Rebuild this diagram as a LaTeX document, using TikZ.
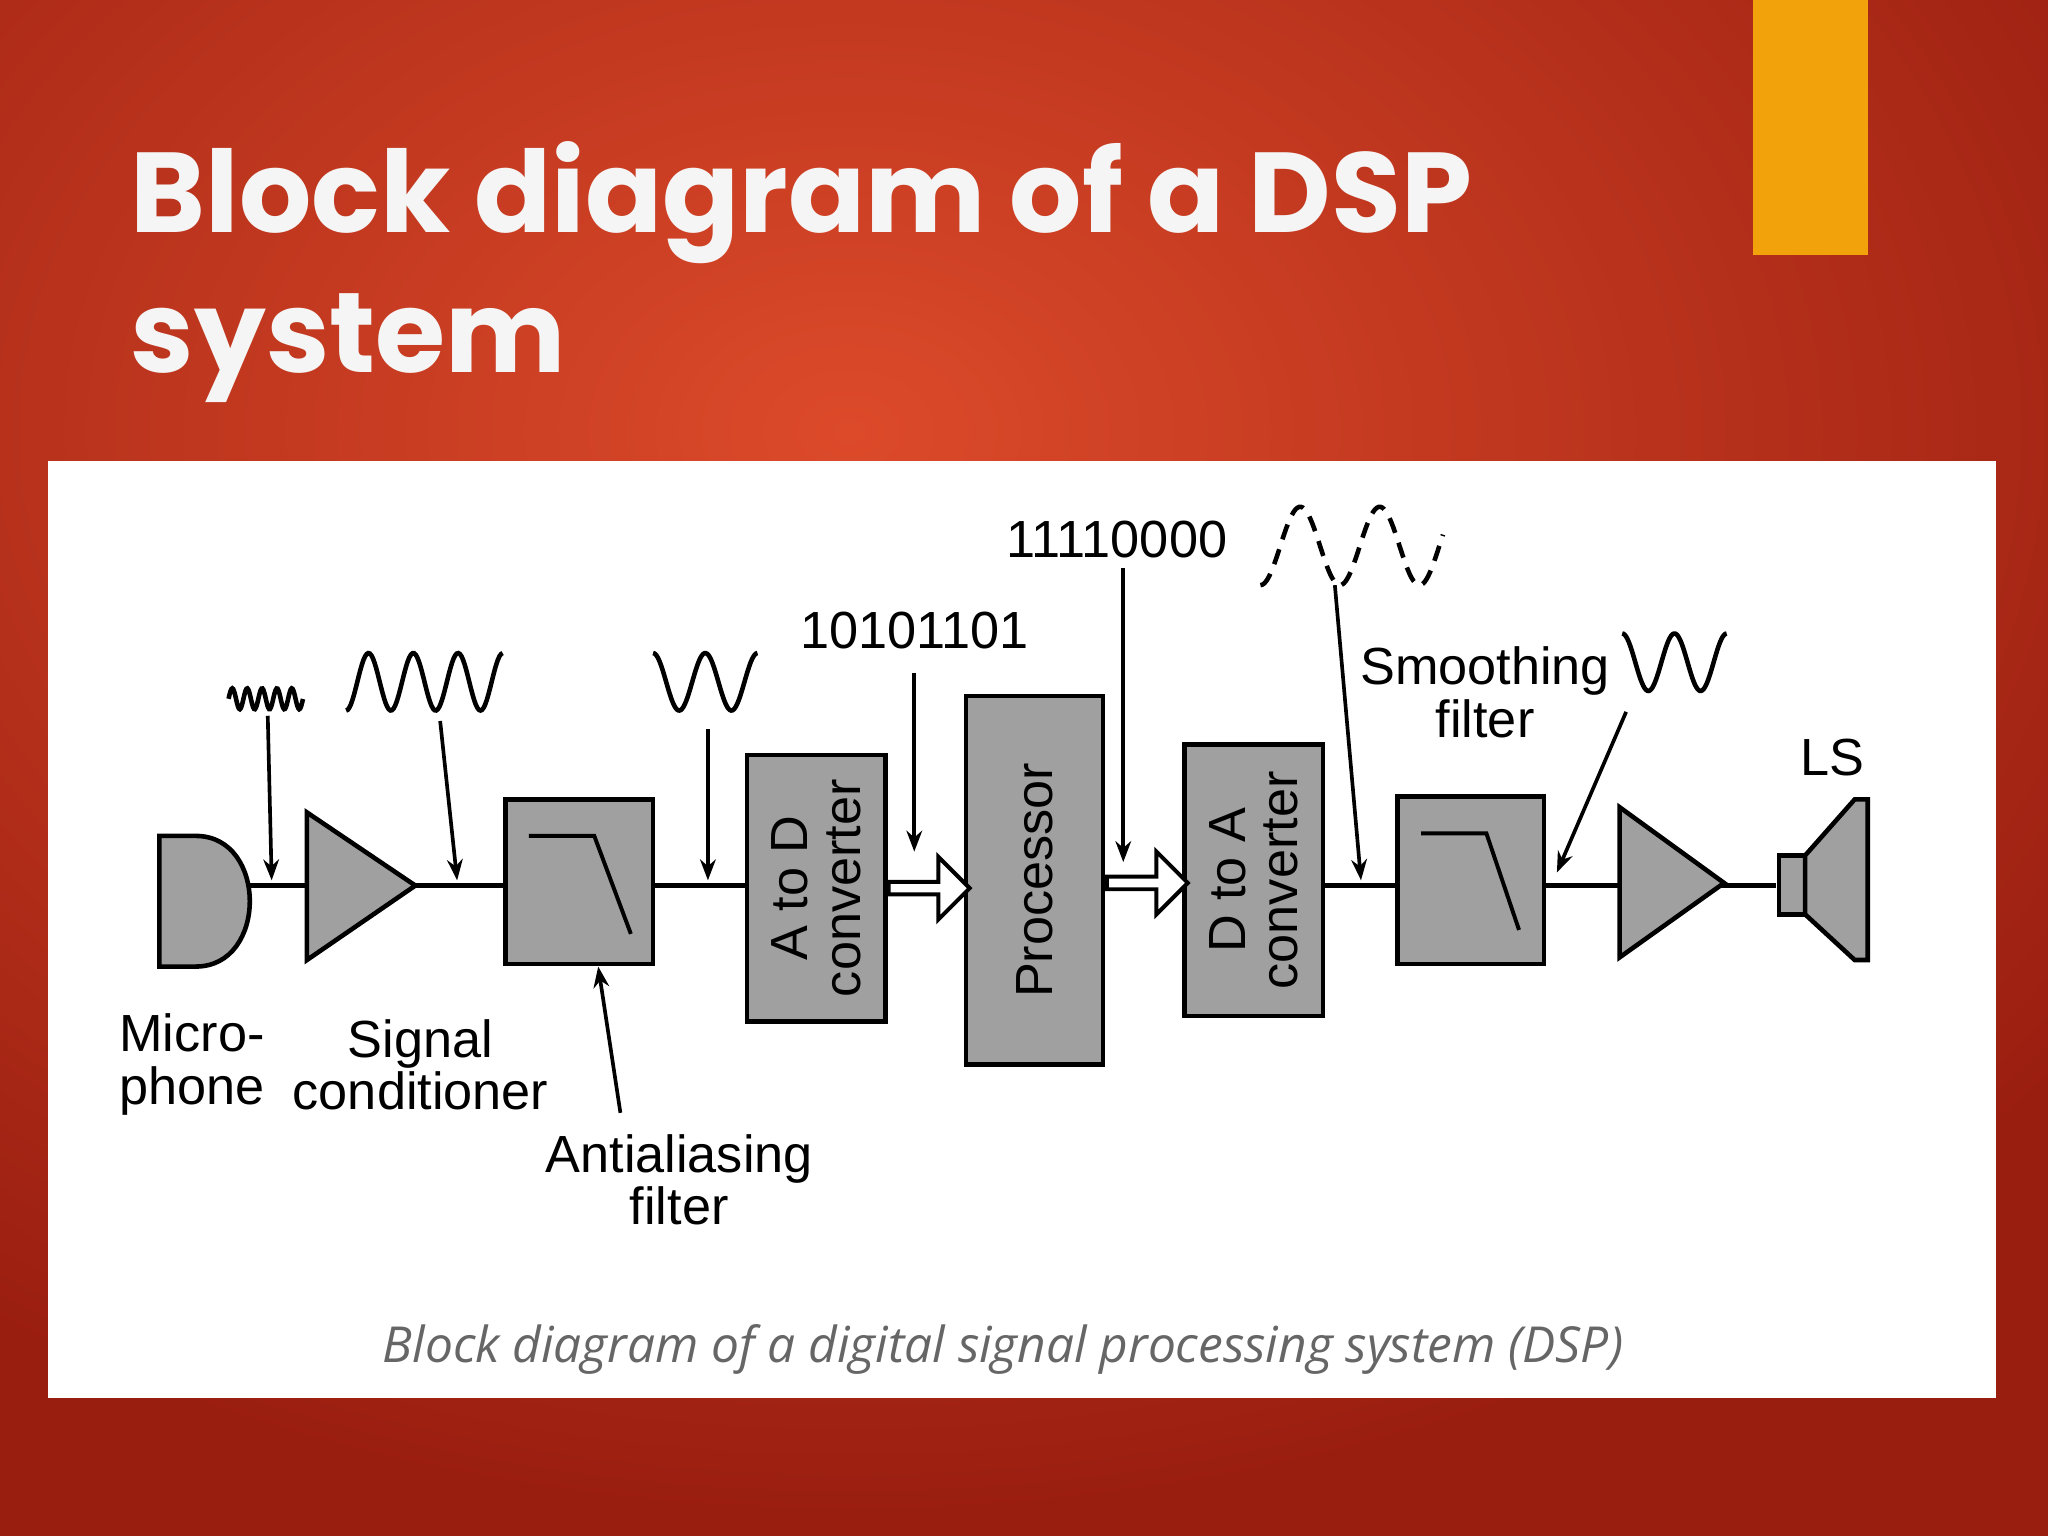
\documentclass[tikz,border=0pt]{standalone}
\usepackage{fontspec}
\setmainfont{Liberation Sans}
\newfontfamily\titlefont{Poppins}
\newfontfamily\capfont{Open Sans}
\usetikzlibrary{arrows.meta,shapes.arrows}
\definecolor{bgin}{HTML}{DC4A2A}
\definecolor{bgout}{HTML}{9A1E10}
\definecolor{bar}{HTML}{F2A30C}
\definecolor{blk}{HTML}{A0A0A0}
\begin{document}
\begin{tikzpicture}[x=1pt,y=-1pt,
  blkbox/.style={draw=black,line width=3.5pt,fill=blk},
  lbl/.style={font=\fontsize{40}{40}\selectfont,align=center,inner sep=0pt},
  arr/.style={-{Stealth[length=16pt,width=12pt]},line width=2.8pt},
  wave/.style={line width=3.5pt}]
\useasboundingbox (0,0) rectangle (1568,1176);
\fill[bgout] (0,0) rectangle (1568,1176);
\shade[inner color=bgin,outer color=bgout] (-500,-500) rectangle (1800,1160);
\fill[bar] (1342,0) rectangle (1430,195);
\node[anchor=base west,text=white!92!gray,font=\titlefont\bfseries\fontsize{87}{87}\selectfont,inner sep=0pt] (t1) at (100,178) {Block diagram of a DSP};
\node[anchor=base west,text=white!92!gray,font=\titlefont\bfseries\fontsize{87}{87}\selectfont,inner sep=0pt] (t2) at (100,285) {system};
\fill[white] (37,353) rectangle (1528,1070);
% main line
\coordinate (l0) at (190,678); \coordinate (l1) at (1360,678);
\draw[line width=3.5pt] (l0) -- (l1);
% microphone
\draw[blkbox] (122,640) -- (150,640) .. controls (205,640) and (205,740) .. (150,740) -- (122,740) -- cycle;
% amps
\draw[blkbox] (235,622) -- (318,678) -- (235,735) -- cycle;
\draw[blkbox] (1240,618) -- (1320,676) -- (1240,733) -- cycle;
% filters
\draw[blkbox] (387,612) rectangle (500,738);
\draw[line width=3pt] (405,640) -- (455,640) -- (483,715);
\draw[blkbox] (1070,610) rectangle (1182,738);
\draw[line width=3pt] (1088,638) -- (1138,638) -- (1163,712);
% converters
\node[blkbox,minimum width=106pt,minimum height=204pt] (ad) at (625,680) {};
\node[lbl,rotate=90] at (ad) {A to D\\converter};
\node[blkbox,minimum width=105pt,minimum height=282pt] (proc) at (792,674) {};
\node[lbl,rotate=90] at (proc) {Processor};
\node[blkbox,minimum width=106pt,minimum height=208pt] (da) at (960,674) {};
\node[lbl,rotate=90] at (da) {D to A\\converter};
% hollow arrows
\node[single arrow,draw=black,line width=3pt,fill=white,minimum height=62pt,minimum width=48pt,single arrow head extend=6pt,inner sep=0pt] (h1) at (709,680) {};
\node[single arrow,draw=black,line width=3pt,fill=white,minimum height=62pt,minimum width=48pt,single arrow head extend=6pt,inner sep=0pt] (h2) at (876,676) {};
% speaker
\draw[blkbox] (1362,655) rectangle (1382,700);
\draw[blkbox] (1382,655) -- (1420,612) -- (1430,612) -- (1430,735) -- (1420,735) -- (1382,700) -- cycle;
% labels
\node[lbl] (micl) at (147,815) {Micro-\\phone};
\node[lbl] (sigl) at (322,815) {Signal\\conditioner};
\node[lbl] (aal) at (520,903) {Antialiasing\\filter};
\node[lbl] (b1) at (700,483) {10101101};
\node[lbl] (b2) at (855,413) {11110000};
\node[lbl] (sml) at (1137,530) {Smoothing\\filter};
\node[lbl] (ls) at (1403,580) {LS};
\coordinate (aa) at (458,740); \draw[arr] (475,852) -- (aa);
\coordinate (p1) at (700,652); \draw[arr] (700,515) -- (p1);
\coordinate (p2) at (860,660); \draw[arr] (860,435) -- (p2);
\coordinate (p3) at (1192,668); \draw[arr] (1245,545) -- (p3);
\coordinate (w1) at (208,674); \draw[arr] (205,548) -- (w1);
\coordinate (w2) at (350,674); \draw[arr] (337,552) -- (w2);
\coordinate (w3) at (542,674); \draw[arr] (542,558) -- (w3);
\coordinate (w4) at (1042,674); \draw[arr] (1022,448) -- (w4);
% waves
\draw[wave,domain=0:1,samples=80] plot ({175+57*\x},{535-8*sin(\x*5*360)});
\draw[wave,domain=0:1,samples=100] plot ({265+120*\x},{522+22*cos(\x*3.5*360)});
\draw[wave,domain=0:1,samples=80] plot ({500+80*\x},{522+22*cos(\x*2*360+180)});
\draw[wave,dashed,dash pattern=on 12pt off 8pt,domain=0:1,samples=100] plot ({965+140*\x},{418-30*sin(\x*2.3*360-90)});
\draw[wave,domain=0:1,samples=80] plot ({1242+80*\x},{507+22*cos(\x*2*360+180)});
\node[font=\capfont\itshape\fontsize{38}{38}\selectfont,text=gray!80!black,inner sep=0pt] (cap) at (768,1033) {Block diagram of a digital signal processing system (DSP)};
\end{tikzpicture}
\end{document}
